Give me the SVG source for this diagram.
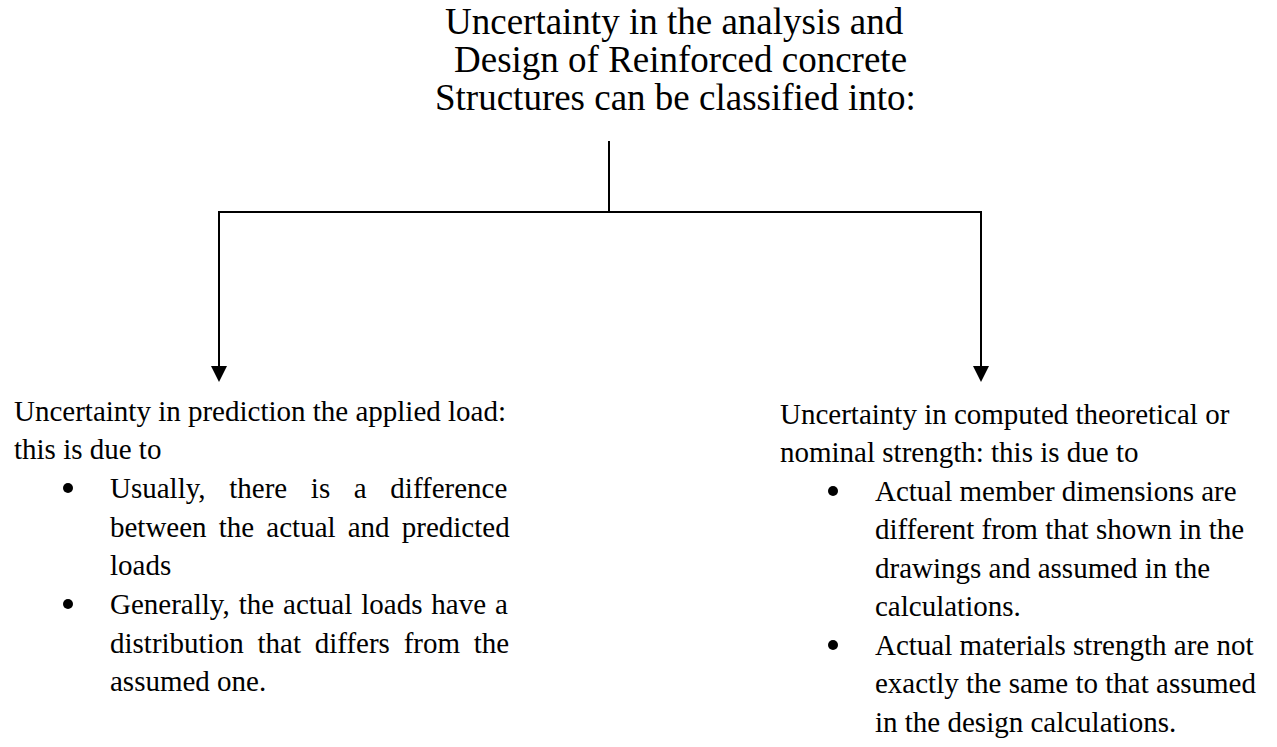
<svg xmlns="http://www.w3.org/2000/svg" width="1277" height="747" viewBox="0 0 1277 747">
<style>
text{font-family:"Liberation Serif","Times New Roman",serif;fill:#000;font-variant-ligatures:none}
.t{font-size:37px}
.b{font-size:29px}
.ln{stroke:#000;stroke-width:2;fill:none}
.dot{fill:#000}
</style>
<defs>
<marker id="ah" markerUnits="userSpaceOnUse" markerWidth="16" markerHeight="16" viewBox="0 0 16 16" refX="0" refY="8" orient="auto">
<path d="M0,0 L16,8 L0,16 Z" fill="#000"/>
</marker>
</defs>
<rect width="1277" height="747" fill="#fff"/>
<g id="title">
<text class="t" x="445" y="34">Uncertainty in the analysis and</text>
<text class="t" x="454" y="72">Design of Reinforced concrete</text>
<text class="t" x="435" y="110">Structures can be classified into:</text>
</g>
<g id="connectors">
<line class="ln" x1="609" y1="141" x2="609" y2="212"/>
<line class="ln" x1="218" y1="212" x2="982" y2="212"/>
<line class="ln" x1="219" y1="211" x2="219" y2="366" marker-end="url(#ah)"/>
<line class="ln" x1="981" y1="211" x2="981" y2="366" marker-end="url(#ah)"/>
</g>
<g id="left-node">
<text class="b" x="14" y="421">Uncertainty in prediction the applied load:</text>
<text class="b" x="14" y="459">this is due to</text>
<circle class="dot" cx="68" cy="488" r="5"/>
<text class="b" x="110" y="498" word-spacing="16.4">Usually, there is a difference</text>
<text class="b" x="110" y="537" word-spacing="4.9">between the actual and predicted</text>
<text class="b" x="110" y="575">loads</text>
<circle class="dot" cx="68" cy="604" r="5"/>
<text class="b" x="110" y="614" word-spacing="1.7">Generally, the actual loads have a</text>
<text class="b" x="110" y="653" word-spacing="6.5">distribution that differs from the</text>
<text class="b" x="110" y="691">assumed one.</text>
</g>
<g id="right-node">
<text class="b" x="780" y="424">Uncertainty in computed theoretical or</text>
<text class="b" x="780" y="462">nominal strength: this is due to</text>
<circle class="dot" cx="833" cy="491" r="5"/>
<text class="b" x="875" y="501">Actual member dimensions are</text>
<text class="b" x="875" y="539">different from that shown in the</text>
<text class="b" x="875" y="578">drawings and assumed in the</text>
<text class="b" x="875" y="616">calculations.</text>
<circle class="dot" cx="833" cy="645" r="5"/>
<text class="b" x="875" y="655">Actual materials strength are not</text>
<text class="b" x="875" y="693">exactly the same to that assumed</text>
<text class="b" x="875" y="732">in the design calculations.</text>
</g>
</svg>
